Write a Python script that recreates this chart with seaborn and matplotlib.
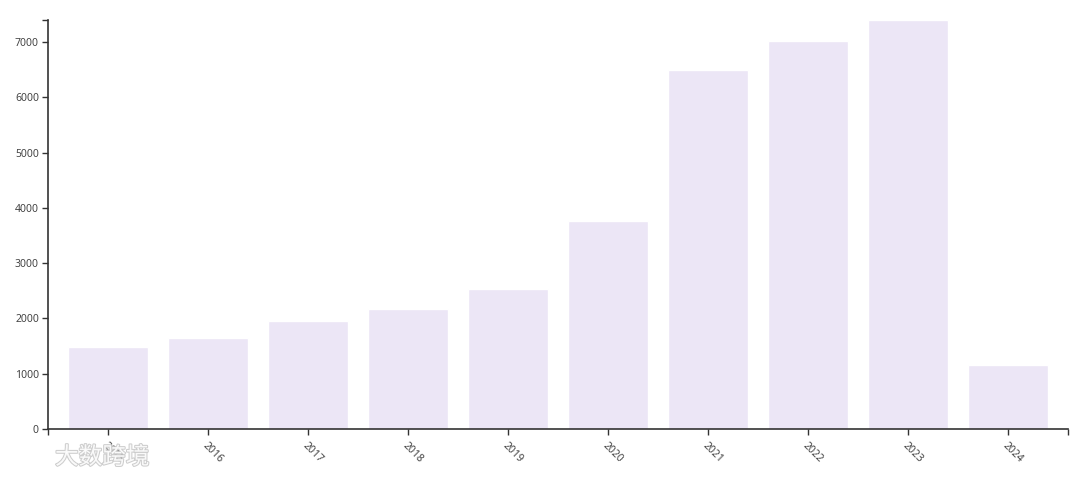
import matplotlib
matplotlib.use("Agg")
import matplotlib.pyplot as plt
import matplotlib.patheffects as pe
import seaborn as sns
import pandas as pd

# 数据：年份与数量
years = ["2015", "2016", "2017", "2018", "2019", "2020", "2021", "2022", "2023", "2024"]
counts = [1487, 1650, 1960, 2175, 2540, 3755, 6490, 7020, 7399, 1160]
y_ticks = [0, 1000, 2000, 3000, 4000, 5000, 6000, 7000]

bar_color = "#ece6f6"
axis_color = "#333333"

sns.set_style("white")
plt.rcParams["font.family"] = ["Noto Sans", "Noto Sans CJK SC", "DejaVu Sans"]

df = pd.DataFrame({"year": years, "count": counts})

fig = plt.figure(figsize=(10.8, 4.78), dpi=100)
ax = fig.add_axes([48 / 1080, 49 / 478, 1020 / 1080, 409 / 478])

sns.barplot(data=df, x="year", y="count", color=bar_color, width=0.8,
            saturation=1, ax=ax)

ax.set_xlim(-0.6, len(years) - 0.4)
ax.set_ylim(0, max(counts))
ax.set_xlabel("")
ax.set_ylabel("")

for side in ["top", "right"]:
    ax.spines[side].set_visible(False)
for side in ["left", "bottom"]:
    ax.spines[side].set_color(axis_color)
    ax.spines[side].set_linewidth(1.2)

ax.set_yticks(y_ticks)
ax.set_yticklabels([str(t) for t in y_ticks])
# 轴两端的外侧刻度
ax.set_yticks([max(counts)], minor=True)
ax.set_xticks([-0.6, len(years) - 0.4], minor=True)

ax.tick_params(axis="both", which="both", length=4.5, width=1.0,
               color=axis_color, labelsize=7.5, labelcolor="#444444", pad=2,
               direction="out", bottom=True, left=True)
ax.tick_params(axis="x", which="major", pad=4)

for lab in ax.get_xticklabels():
    lab.set_rotation(-45)
    lab.set_rotation_mode("anchor")
    lab.set_ha("left")
    lab.set_va("top")

# 水印
fig.text(55 / 1080, 1 - 458 / 478, "大数跨境", fontsize=17, color="white",
         ha="left", va="center", alpha=0.9,
         path_effects=[pe.withStroke(linewidth=1.5, foreground="#c8c8c8")])

fig.savefig("out.png", dpi=100)
